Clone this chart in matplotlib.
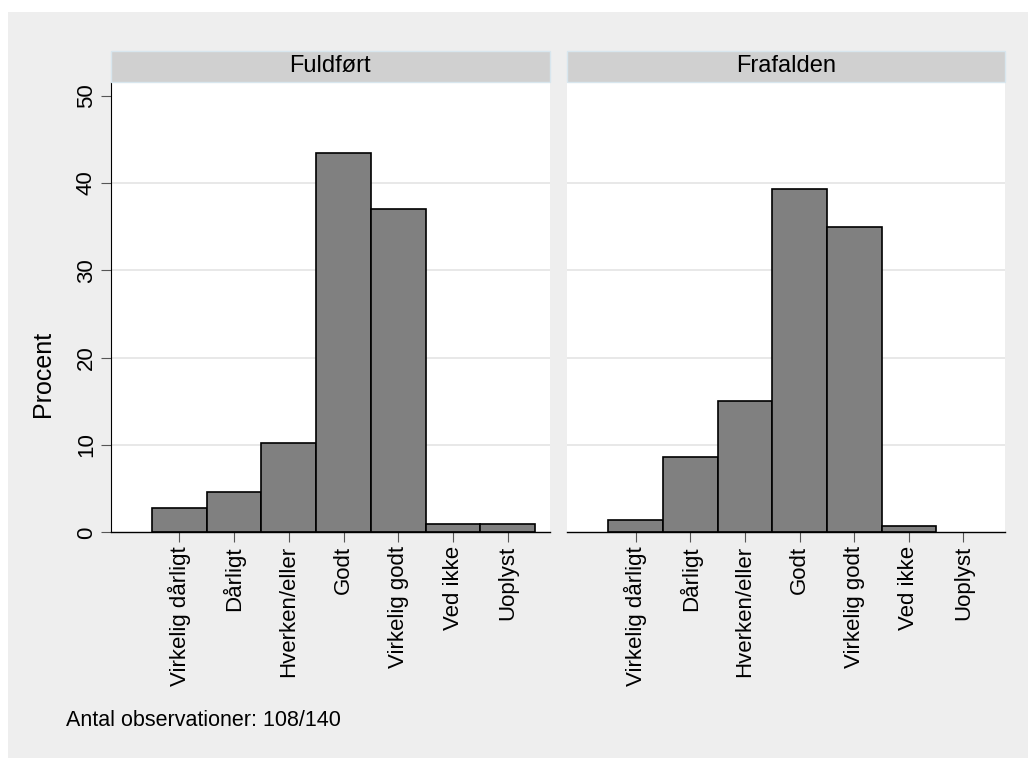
import matplotlib.pyplot as plt
from matplotlib.patches import Rectangle

categories = ["Virkelig dårligt", "Dårligt", "Hverken/eller", "Godt",
              "Virkelig godt", "Ved ikke", "Uoplyst"]
panels = ["Fuldført", "Frafalden"]
pct_fuldfort = [2.8, 4.6, 10.2, 43.5, 37.0, 0.9, 0.9]
pct_frafalden = [1.4, 8.6, 15.0, 39.3, 35.0, 0.7, 0.0]
yticks = [0, 10, 20, 30, 40, 50]
note = "Antal observationer: 108/140"

plt.rcParams["font.family"] = ["Liberation Sans", "DejaVu Sans"]

W, H = 1028, 758
fig = plt.figure(figsize=(W / 100, H / 100), dpi=100, facecolor="white")
fig.patches.append(Rectangle((8 / W, 0), 1, (H - 12) / H, transform=fig.transFigure,
                             facecolor="#eeeeee", edgecolor="none", zorder=-10))

bottom, top = 0.2977, 0.8918
lefts = [110.7 / W, 567.3 / W]
rights = [549.5 / W, 1005 / W]
x = list(range(1, len(categories) + 1))

for i, (name, vals) in enumerate(zip(panels, [pct_fuldfort, pct_frafalden])):
    ax = fig.add_axes([lefts[i], bottom, rights[i] - lefts[i], top - bottom])
    ax.set_facecolor("white")
    for g in yticks[1:-1]:
        ax.axhline(g, color="#e6e6e6", lw=1.3, zorder=0)
    # empty categories get no outline
    lws = [1.2 if v > 0 else 0 for v in vals]
    ax.bar(x, vals, width=1.0, color="#808080", edgecolor="black", linewidth=lws, zorder=2)
    ax.set_xlim(-0.25, 7.76)
    ax.set_ylim(0, 51.58)
    ax.set_xticks(x)
    ax.set_xticklabels(categories, rotation=90, fontsize=16, va="top", ha="center")
    ax.tick_params(axis="x", length=7, width=0.8, color="#555555", pad=3)
    for s in ["top", "right"]:
        ax.spines[s].set_visible(False)
    ax.spines["bottom"].set_linewidth(1.0)
    if i == 0:
        ax.set_yticks(yticks)
        ax.set_yticklabels([str(t) for t in yticks], rotation=90, va="center", fontsize=16)
        ax.tick_params(axis="y", length=7, width=0.8, color="#555555", pad=3)
        ax.spines["left"].set_linewidth(0.8)
    else:
        ax.spines["left"].set_visible(False)
        ax.set_yticks([])

    # strip label
    sb, st = 0.8922, 0.9331
    fig.patches.append(Rectangle((lefts[i], sb), rights[i] - lefts[i], st - sb,
                                 transform=fig.transFigure, facecolor="#d0d0d0",
                                 edgecolor="#d8e6ee", linewidth=1.0))
    fig.text((lefts[i] + rights[i]) / 2, (sb + st) / 2, name, ha="center", va="center",
             fontsize=17)

fig.text(43 / W, (H - 374) / H, "Procent", rotation=90, ha="center", va="center", fontsize=18)
fig.text(66 / W, (H - 720) / H, note, ha="left", va="center", fontsize=15.5)

fig.savefig("out.png", dpi=100, facecolor=fig.get_facecolor())
